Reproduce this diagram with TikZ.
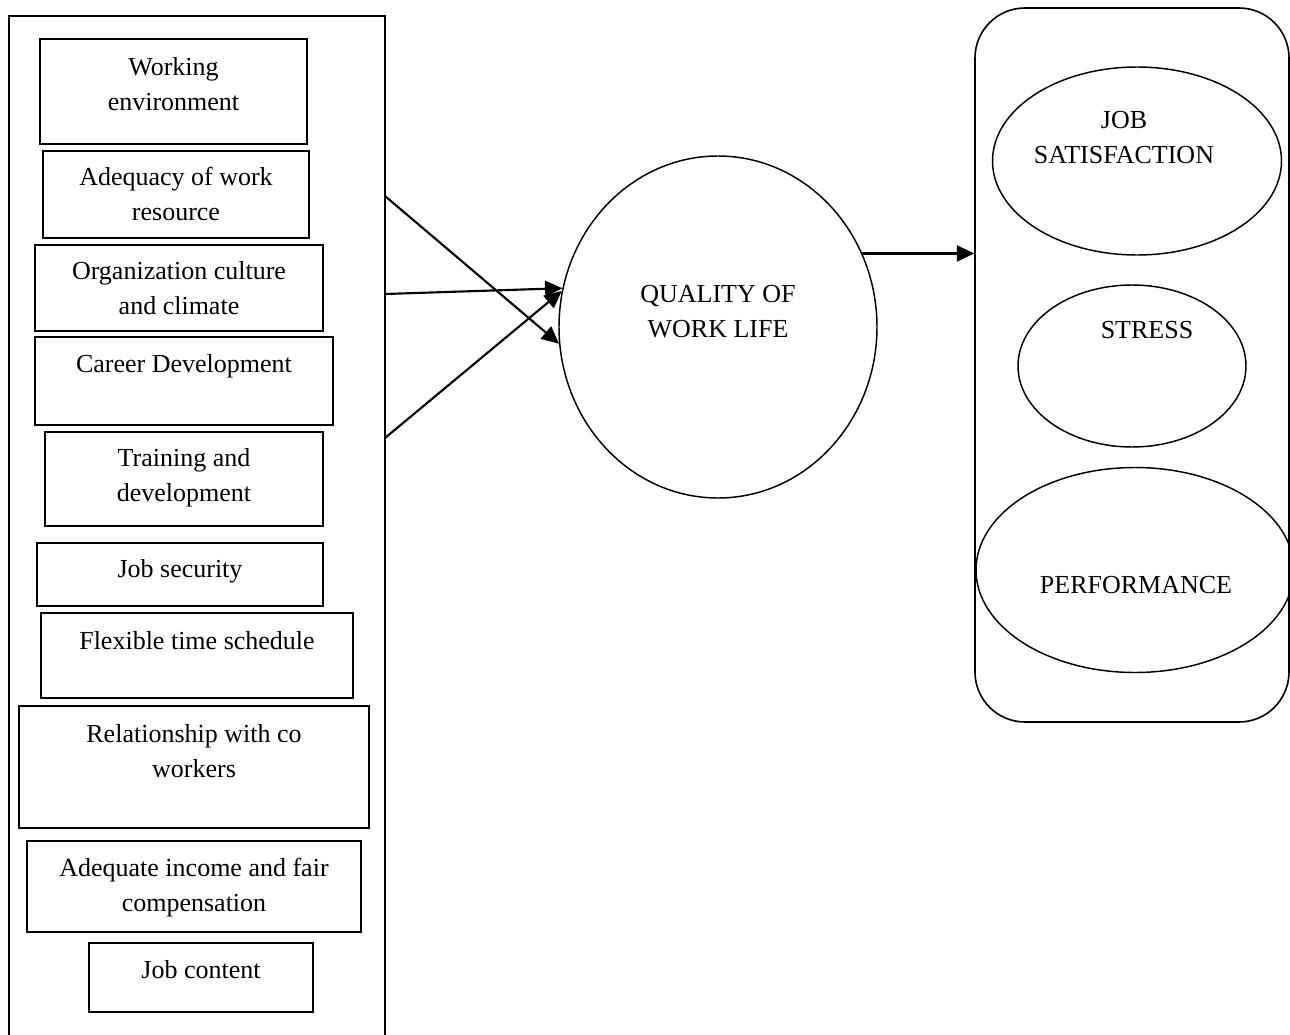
\documentclass[tikz,border=0pt]{standalone}
\usepackage{fontspec}
\setmainfont{Liberation Serif}
\usetikzlibrary{shapes.geometric,arrows.meta,fit}
\begin{document}
\begin{tikzpicture}[x=0.75pt,y=-0.75pt,
  factorbox/.style={draw,line width=1.5pt,rectangle,inner sep=0pt},
  panel/.style={draw,line width=1.5pt,rectangle,inner sep=0pt},
  oval/.style={draw,line width=1.1pt,ellipse,inner sep=0pt},
  lbl/.style={align=center,inner sep=0pt,font=\fontsize{19.5}{26.25}\selectfont},
  conn/.style={line width=1.6pt,-{Triangle[length=13pt,width=12pt]}}]
\useasboundingbox (0,0) rectangle (1290,1035);

% left panel (bottom edge lies beyond the page)
\node[panel,fit={(9,16) (385,1050)}] (factors) {};

% factor boxes
\node[factorbox,fit={(40,39) (307,144)}] (b1) {};
\node[factorbox,fit={(43,151) (309,238)}] (b2) {};
\node[factorbox,fit={(35,245) (323,331)}] (b3) {};
\node[factorbox,fit={(35,337) (333,425)}] (b4) {};
\node[factorbox,fit={(45,432) (323,526)}] (b5) {};
\node[factorbox,fit={(37,543) (323,606)}] (b6) {};
\node[factorbox,fit={(41,613) (353,698)}] (b7) {};
\node[factorbox,fit={(19,706) (369,828)}] (b8) {};
\node[factorbox,fit={(27,841) (361,932)}] (b9) {};
\node[factorbox,fit={(89,943) (313,1012)}] (b10) {};

% labels (base anchor = baseline of the last line)
\node[lbl,anchor=base] (t1) at (173.5,110) {Working\\environment};
\node[lbl,anchor=base] (t2) at (176,220) {Adequacy of work\\resource};
\node[lbl,anchor=base] (t3) at (179,314) {Organization culture\\and climate};
\node[lbl,anchor=base] (t4) at (184,372) {Career Development};
\node[lbl,anchor=base] (t5) at (184,501) {Training and\\development};
\node[lbl,anchor=base] (t6) at (180,577) {Job security};
\node[lbl,anchor=base] (t7) at (197,649) {Flexible time schedule};
\node[lbl,anchor=base] (t8) at (194,777) {Relationship with co\\workers};
\node[lbl,anchor=base] (t9) at (194,911) {Adequate income and fair\\compensation};
\node[lbl,anchor=base] (t10) at (201,978) {Job content};

% central ellipse
\node[oval,minimum width=318*0.75pt,minimum height=342*0.75pt] (qwl) at (718,327) {};
\node[lbl,anchor=base] (tq) at (718,337) {QUALITY OF\\WORK LIFE};

% right panel
\node[draw,line width=1.2pt,rounded corners=37.5pt,inner sep=0pt,fit={(975,8) (1289,722)}] (outcomes) {};
\node[oval,minimum width=289*0.75pt,minimum height=188*0.75pt] (js) at (1137,161) {};
\node[lbl,anchor=base] (tjs) at (1124,163) {JOB\\SATISFACTION};
\node[oval,minimum width=228*0.75pt,minimum height=162*0.75pt] (st) at (1132,366) {};
\node[lbl,anchor=base] (tst) at (1147,338) {STRESS};
\node[oval,minimum width=318*0.75pt,minimum height=205*0.75pt] (pf) at (1135,570) {};
\node[lbl,anchor=base] (tpf) at (1136,593) {PERFORMANCE};

% connectors
\coordinate (s1) at (385,196);
\coordinate (s2) at (385,294);
\coordinate (s3) at (385,438);
\draw[conn] (s1) -- (qwl.186);
\draw[conn] (s2) -- (qwl.166);
\draw[conn] (s3) -- (qwl.167.5);
\draw[conn] (qwl.27) -- (qwl.27 -| outcomes.west);
\end{tikzpicture}
\end{document}
